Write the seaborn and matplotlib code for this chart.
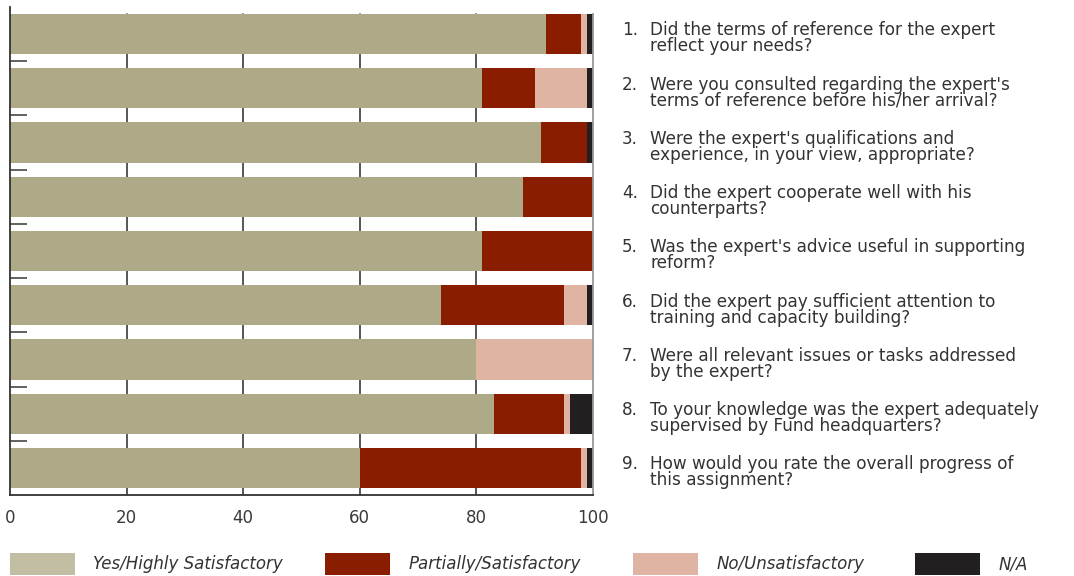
import numpy as np
import pandas as pd
import matplotlib
matplotlib.use("Agg")
import matplotlib.pyplot as plt
import matplotlib.transforms as mtransforms
from matplotlib.patches import Patch
import seaborn as sns

questions = [
    "Did the terms of reference for the expert\nreflect your needs?",
    "Were you consulted regarding the expert's\nterms of reference before his/her arrival?",
    "Were the expert's qualifications and\nexperience, in your view, appropriate?",
    "Did the expert cooperate well with his\ncounterparts?",
    "Was the expert's advice useful in supporting\nreform?",
    "Did the expert pay sufficient attention to\ntraining and capacity building?",
    "Were all relevant issues or tasks addressed\nby the expert?",
    "To your knowledge was the expert adequately\nsupervised by Fund headquarters?",
    "How would you rate the overall progress of\nthis assignment?",
]
series_names = ["Yes/Highly Satisfactory", "Partially/Satisfactory", "No/Unsatisfactory", "N/A"]
yes_vals = [92, 81, 91, 88, 81, 74, 80, 83, 60]
partial_vals = [6, 9, 8, 12, 19, 21, 0, 12, 38]
no_vals = [1, 9, 0, 0, 0, 4, 20, 1, 1]
na_vals = [1, 1, 1, 0, 0, 1, 0, 4, 1]
x_ticks = [0, 20, 40, 60, 80, 100]

bar_colors = ["#AEA986", "#8A1C00", "#E0B4A3", "#231F20"]
legend_colors = ["#C2BEA3", "#8A1C00", "#E0B4A3", "#231F20"]

sns.set_theme(style="white")
plt.rcParams["font.family"] = ["DejaVu Sans"]

ids = [f"Q{i+1}" for i in range(len(questions))]
df = pd.DataFrame({"q": ids, "yes": yes_vals, "partial": partial_vals,
                   "no": no_vals, "na": na_vals})
cum = df[["yes", "partial", "no", "na"]].cumsum(axis=1)

fig = plt.figure(figsize=(10.74, 5.76), dpi=100)
ax = fig.add_axes([10 / 1074, 1 - 495 / 576, 583 / 1074, 488 / 576])

bar_w = 0.74
n = len(ids)
top_frac = 1 - (0.5 - bar_w / 2) / n
# vertical grid behind bars (starting at the top of the first bar)
for xv in x_ticks[1:-1]:
    ax.axvline(xv, ymin=0, ymax=top_frac, color="#3a3a3a", lw=1.2, zorder=0)

for col, color in zip(["na", "no", "partial", "yes"], bar_colors[::-1]):
    sns.barplot(x=cum[col], y=df["q"], orient="h", color=color, width=bar_w,
                saturation=1, ax=ax, zorder=2, linewidth=0)

ax.set_xlim(0, 100)
ax.set_ylim(n - 0.5, -0.5)
ax.set_xlabel("")
ax.set_ylabel("")
ax.set_xticks(x_ticks)
ax.set_xticklabels([str(v) for v in x_ticks], fontsize=12, color="#3a3a3a")
ax.tick_params(axis="x", length=0, pad=10)
ax.set_yticks(np.arange(0.5, n - 0.5, 1.0))
ax.set_yticklabels([])
ax.tick_params(axis="y", direction="in", length=12, width=1.3, color="#555555", left=True)

for s in ["left", "bottom"]:
    ax.spines[s].set_color("#333333")
    ax.spines[s].set_linewidth(1.3)
ax.spines["right"].set_color("#999999")
ax.spines["right"].set_linewidth(1.3)
ax.spines["right"].set_bounds(n - 0.5, -bar_w / 2)
ax.spines["top"].set_visible(False)

trans = mtransforms.blended_transform_factory(fig.transFigure, ax.transData)
for i, q in enumerate(questions):
    ax.text(622 / 1074, i + 0.08, f"{i+1}.\n ", transform=trans, ha="left", va="center",
            fontsize=12.2, color="#333333", linespacing=0.85, clip_on=False)
    ax.text(650 / 1074, i + 0.08, q, transform=trans, ha="left", va="center",
            fontsize=12.2, color="#333333", linespacing=0.85, clip_on=False)

patch_x = [10, 325, 633, 915]
for name, color, px in zip(series_names, legend_colors, patch_x):
    fig.legend(handles=[Patch(facecolor=color, edgecolor="none")], labels=[name],
               loc="lower left", bbox_to_anchor=(px / 1074, 1 / 576), frameon=False,
               borderpad=0, borderaxespad=0, handlelength=3.9, handleheight=1.65,
               handletextpad=1.1, prop={"size": 12, "style": "italic"},
               labelcolor="#333333")

fig.savefig("out.png", dpi=100)
